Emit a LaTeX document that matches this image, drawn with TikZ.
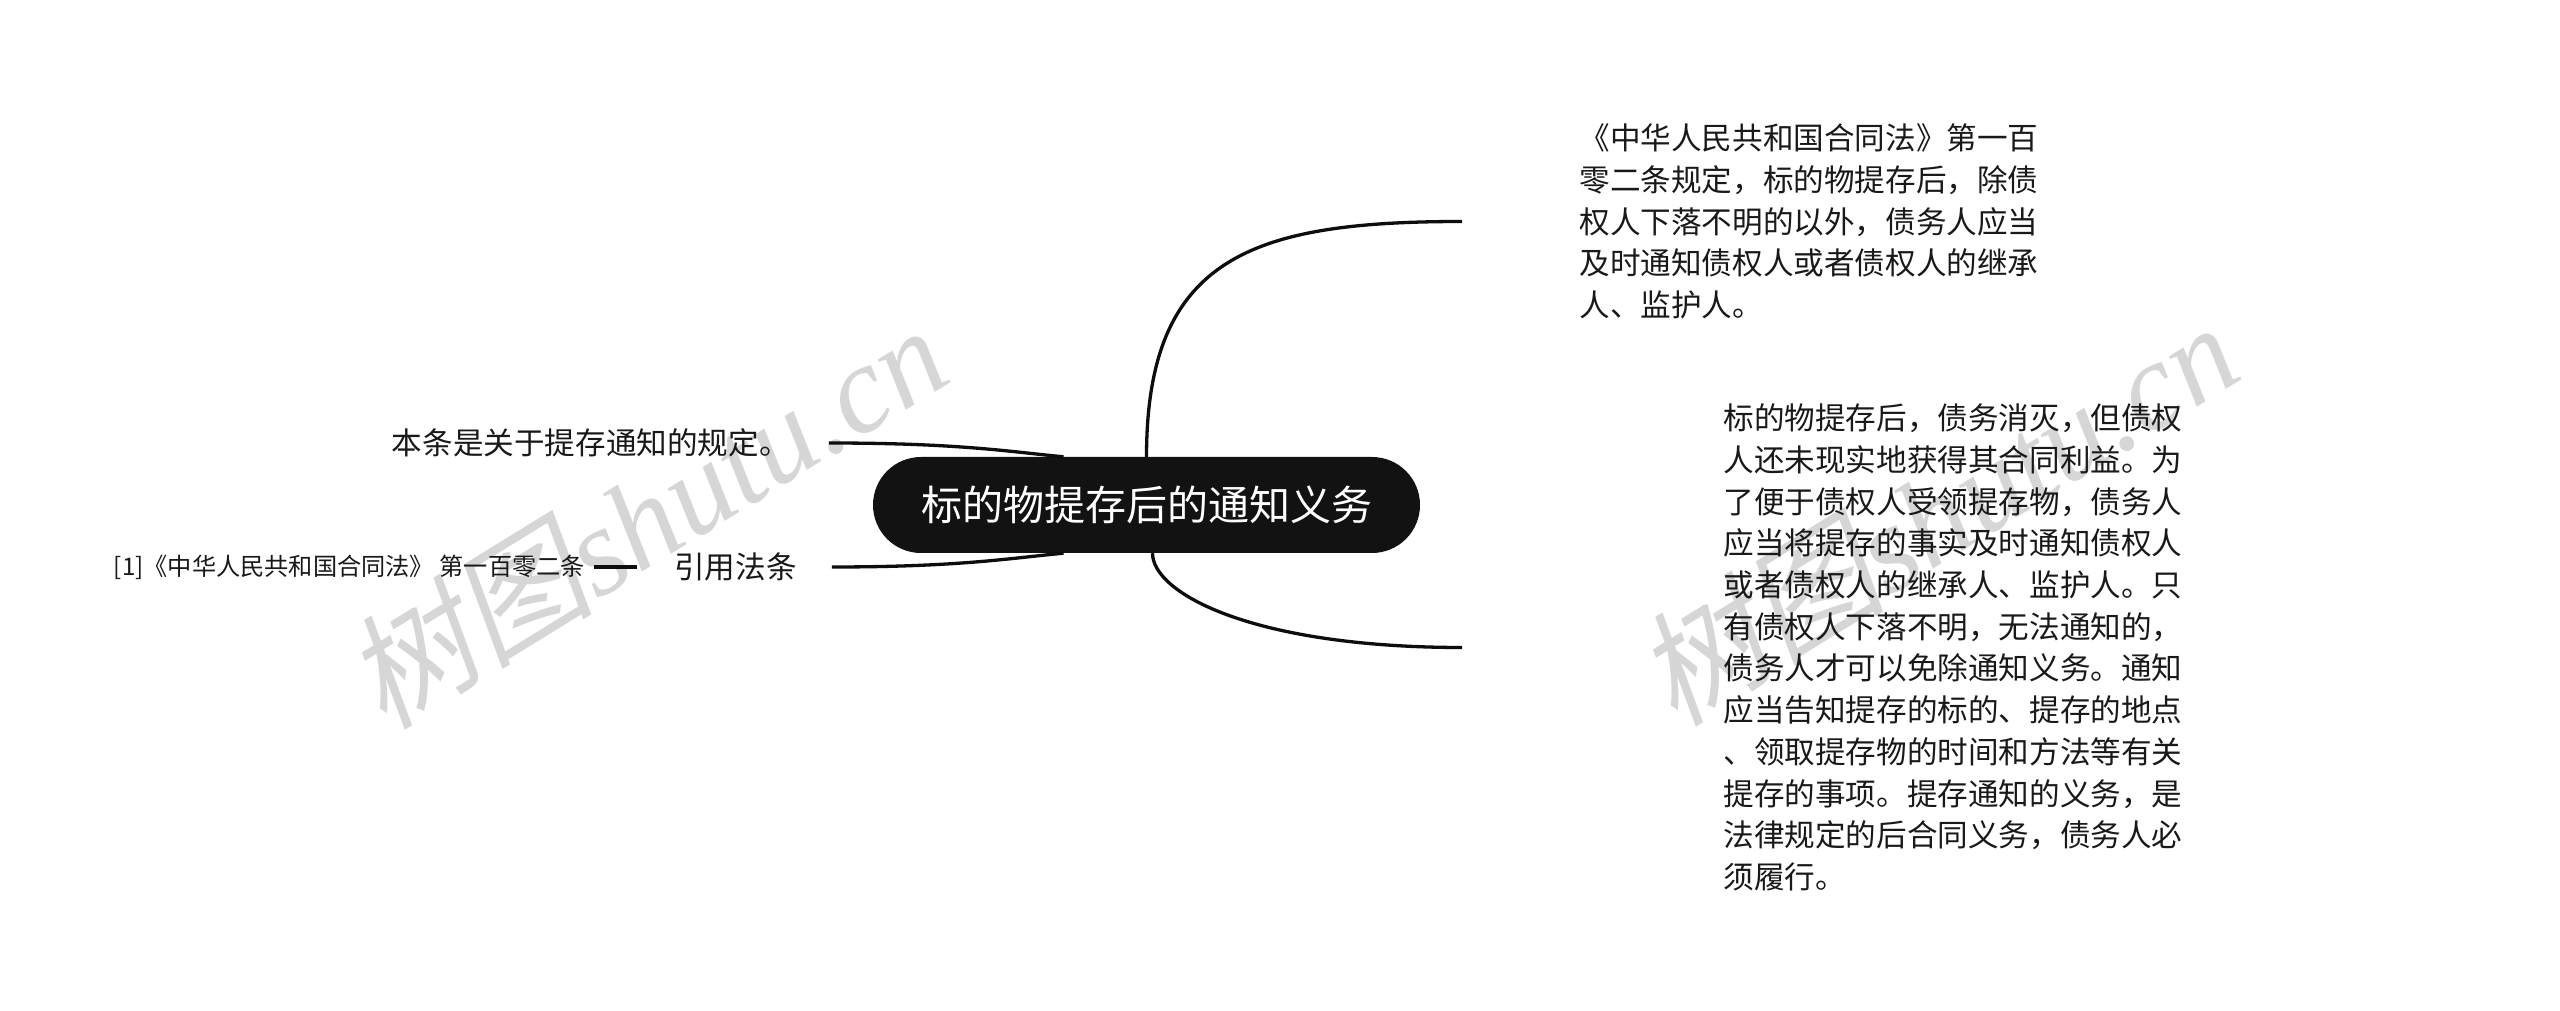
\documentclass[tikz,border=0pt]{standalone}
\usepackage{fontspec}
\setmainfont{Noto Sans CJK SC}
\newfontfamily\wmcjk[FakeSlant=0.2]{Noto Sans CJK SC}
\newfontfamily\wmlat{Liberation Serif}
\usetikzlibrary{positioning}

\begin{document}
\begin{tikzpicture}[x=1pt,y=1pt]
\tikzstyle{topic}=[rounded corners=48pt,fill=black!93,text=white,
minimum height=96pt,inner xsep=48pt,inner ysep=0pt,
font=\fontsize{41}{49}\selectfont]
\tikzstyle{leaf}=[inner sep=0pt,text=black!90,align=left,
font=\fontsize{30.6}{41.7}\selectfont]
\tikzstyle{small}=[inner sep=0pt,text=black!90,font=\fontsize{24.2}{28}\selectfont]
\tikzstyle{link}=[line width=3.3pt,black!95]
\tikzstyle{stamp}=[inner sep=0pt,rotate=31.6,text=black!16,
font=\fontsize{125}{130}\selectfont]

\useasboundingbox[fill=white] (0,0) rectangle (2560,1010);

% watermarks
\node[stamp] (wm1) at (645,495) {{\wmcjk 树图}{\wmlat\itshape shutu.cn}};
\node[stamp] (wm2) at (1936,498) {{\wmcjk 树图}{\wmlat\itshape shutu.cn}};

\node[topic] at (1146.5,505) (root) {标的物提存后的通知义务};
\node[leaf,right=159pt of root,yshift=283.5pt] (note1) {《中华人民共和国合同法》第一百\\
零二条规定，标的物提存后，除债\\
权人下落不明的以外，债务人应当\\
及时通知债权人或者债权人的继承\\
人、监护人。};
\node[leaf,right=303pt of root,yshift=-142.5pt] (note2) {标的物提存后，债务消灭，但债权\\
人还未现实地获得其合同利益。为\\
了便于债权人受领提存物，债务人\\
应当将提存的事实及时通知债权人\\
或者债权人的继承人、监护人。只\\
有债权人下落不明，无法通知的，\\
债务人才可以免除通知义务。通知\\
应当告知提存的标的、提存的地点\\
、领取提存物的时间和方法等有关\\
提存的事项。提存通知的义务，是\\
法律规定的后合同义务，债务人必\\
须履行。};
\node[leaf,left=83pt of root,yshift=62pt] (summary) {本条是关于提存通知的规定。};
\node[leaf,left=76pt of root,yshift=-62pt] (cite) {引用法条};
\node[small,left=89pt of cite] (law) {[1]《中华人民共和国合同法》 第一百零二条};

% connectors
\draw[link] (root.north) .. controls +(0,200) and +(-210,0) .. ([xshift=-117pt]note1.west);
\draw[link] ([xshift=6pt]root.south) .. controls +(0,-40) and +(-210,0) .. ([xshift=-261pt]note2.west);
\draw[link] ([xshift=39pt]summary.east) .. controls +(131,0) and +(-53.5,5) .. ([xshift=-83pt]root.north);
\draw[link] ([xshift=35pt]cite.east) .. controls +(128,0) and +(-53.5,-5) .. ([xshift=-83pt]root.south);
\draw[link] ([xshift=9pt]law.east) -- ([xshift=-37pt]cite.west);

\end{tikzpicture}
\end{document}
